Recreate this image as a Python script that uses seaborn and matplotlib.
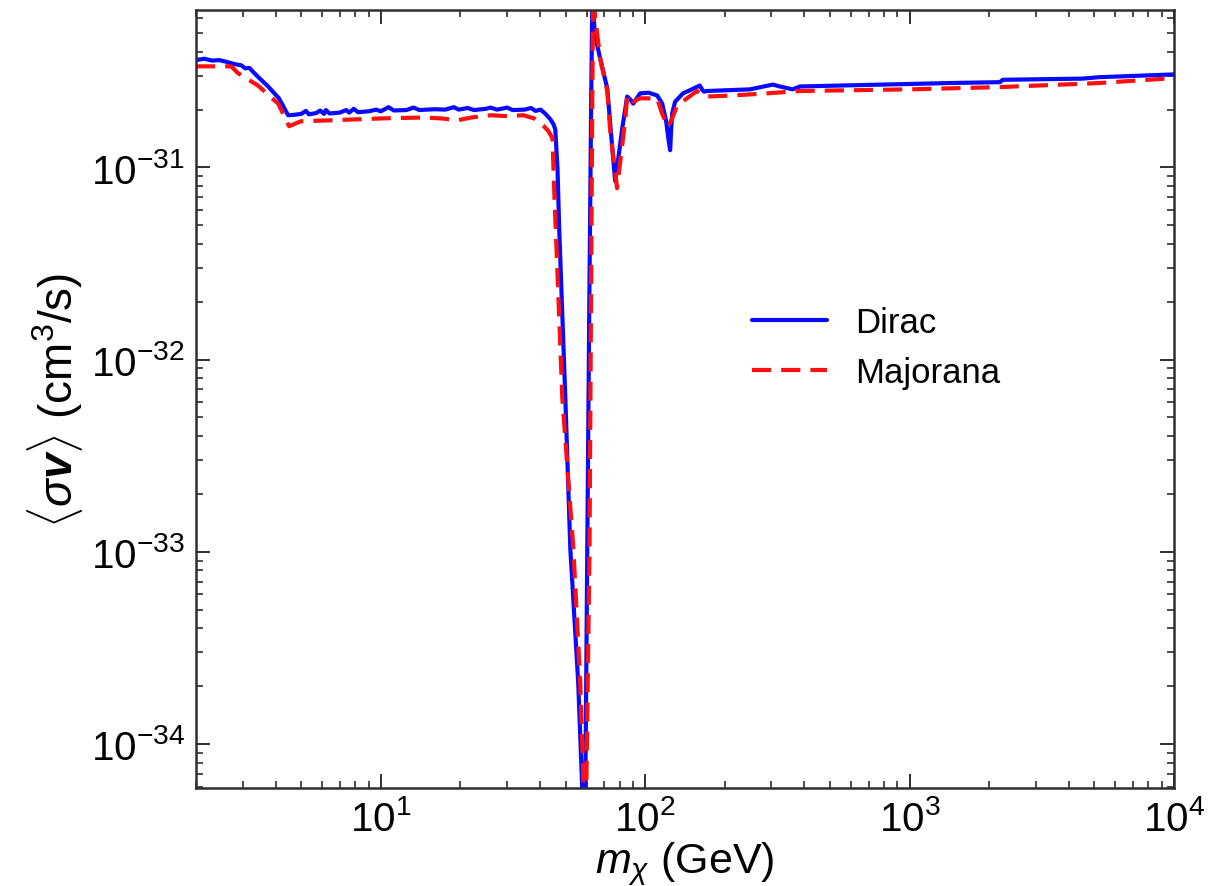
import numpy as np
import pandas as pd
import matplotlib
matplotlib.use("Agg")
import matplotlib.pyplot as plt
import seaborn as sns

# Dark matter mass (GeV) and thermally averaged annihilation cross section (cm^3/s)
dirac_m = [2.0, 2.15, 2.3, 2.45, 2.6, 2.8, 2.97, 3.07, 3.18, 3.4, 3.75, 4.12, 4.46,
           4.7, 5.0, 5.21, 5.35, 5.7, 5.9, 6.1, 6.2, 6.4, 7.0, 7.4, 7.6, 7.9, 8.2,
           9.0, 9.6, 10.0, 10.7, 11.2, 12.5, 13.3, 14.0, 16.0, 17.5, 18.9, 19.7,
           21.3, 22.5, 25.0, 26.0, 27.5, 30.1, 31.5, 35.0, 37.0, 38.5, 40.2, 42.0,
           43.8, 45.0, 45.7, 46.6, 47.3, 49.9, 52.1, 55.8, 57.8, 59.0, 59.4, 60.4,
           61.5, 62.5, 63.2, 63.6, 64.5, 65.9, 68.5, 71.9, 75.1, 77.0, 79.1, 81.9,
           85.5, 88.0, 90.1, 95.7, 103, 111, 116, 120, 122.5, 124.3, 125.5, 126.5,
           129.8, 139, 150, 161, 164, 167, 171, 249, 304, 323, 361, 385, 1000,
           1400, 2200, 2250, 4500, 5200, 10000]
dirac_sv = [3.62, 3.68, 3.60, 3.62, 3.55, 3.45, 3.40, 3.28, 3.30, 3.00, 2.64, 2.29, 1.87,
            1.88, 1.90, 1.97, 1.89, 1.92, 1.98, 1.90, 1.99, 1.91, 1.93, 1.99, 1.93, 2.02, 1.94,
            1.96, 2.00, 1.96, 2.06, 1.98, 1.99, 2.05, 1.99, 2.01, 2.00, 2.06, 2.00,
            2.04, 1.99, 2.02, 2.05, 2.00, 2.05, 1.99, 2.00, 2.04, 1.97, 2.00, 1.90,
            1.78, 1.68, 1.58, 0.99, 0.48, 0.063, 0.0104, 0.0021, 0.00059, 0.00025, 0.00059, 0.0104,
            0.21, 2.3, 9.0, 6.5, 5.0, 4.3, 3.4, 2.58, 1.26, 0.85, 1.11, 1.60,
            2.34, 2.25, 2.15, 2.43, 2.45, 2.37, 2.15, 1.75, 1.40, 1.23, 1.60, 1.91,
            2.20, 2.43, 2.55, 2.67, 2.55, 2.48, 2.50, 2.55, 2.70, 2.64, 2.55, 2.64, 2.72,
            2.75, 2.78, 2.86, 2.90, 2.95, 3.05]

majorana_m = [2.0, 2.72, 2.88, 3.43, 4.09, 4.5, 4.99, 6.47, 10.0, 14.5, 17.0, 19.5,
              22.0, 26.0, 30.0, 34.7, 38.0, 41.2, 43.0, 44.6, 45.4, 46.2, 48.6, 53.5,
              56.8, 58.6, 59.3, 59.9, 61.6, 62.5, 63.1, 63.6, 64.7, 67.6, 71.9, 73.8,
              78.3, 79.9, 84.2, 85.5, 90.1, 95.7, 111, 116, 122, 126.5, 132, 157,
              171, 214, 288, 385, 1000, 2190, 5200, 10000]
majorana_sv = [3.36, 3.36, 3.10, 2.67, 2.15, 1.64, 1.74, 1.76, 1.80, 1.82, 1.80, 1.76,
               1.82, 1.87, 1.85, 1.87, 1.80, 1.65, 1.55, 1.42, 0.69, 0.38, 0.063, 0.0104,
               0.0021, 0.00059, 0.0003, 0.00059, 0.0104, 0.30, 2.3, 9.0, 6.0, 3.7, 2.49, 1.54,
               0.78, 0.99, 1.80, 2.37, 2.20, 2.29, 2.29, 1.90, 1.63, 1.80, 2.10, 2.50,
               2.34, 2.37, 2.43, 2.50, 2.55, 2.62, 2.75, 2.92]

series_names = ["Dirac", "Majorana"]
SCALE = 1e-31

sns.set_theme(style="ticks")
plt.rcParams["font.family"] = ["Liberation Sans", "DejaVu Sans"]
plt.rcParams["text.color"] = "black"
plt.rcParams["axes.labelcolor"] = "black"
plt.rcParams["mathtext.fontset"] = "custom"
plt.rcParams["mathtext.rm"] = "Liberation Sans"
plt.rcParams["mathtext.it"] = "Liberation Sans:italic"
plt.rcParams["mathtext.bf"] = "Liberation Sans:bold"
plt.rcParams["mathtext.bfit"] = "Liberation Sans:italic:bold"

dirac = pd.DataFrame({"m": dirac_m, "sv": np.array(dirac_sv) * SCALE})
majorana = pd.DataFrame({"m": majorana_m, "sv": np.array(majorana_sv) * SCALE})

fig = plt.figure(figsize=(12.12, 8.87), dpi=100)
ax = fig.add_axes([0.1617, 0.1105, 0.8069, 0.8771])
ax.set_xscale("log")
ax.set_yscale("log")

sns.lineplot(data=dirac, x="m", y="sv", ax=ax, color="#0a0aff", lw=3.0,
             estimator=None, sort=False, label=series_names[0])
sns.lineplot(data=majorana, x="m", y="sv", ax=ax, color="#ff1010", lw=3.0,
             linestyle=(0, (4.6, 2.4)), estimator=None, sort=False,
             label=series_names[1])

ax.set_xlim(2.0, 1e4)
ax.set_ylim(5.9e-35, 6.6e-31)

for s in ax.spines.values():
    s.set_color("#2e2e2e")
    s.set_linewidth(1.8)
    s.set_visible(True)

ax.tick_params(which="both", direction="in", top=True, right=True,
               colors="#2e2e2e", labelcolor="black")
ax.tick_params(which="major", length=10, width=1.4, labelsize=29, pad=8)
ax.tick_params(which="minor", length=5, width=1.2)

ax.set_xlabel(r"$m_\chi$ (GeV)", fontsize=31, labelpad=1)
ax.set_ylabel(r"$\langle\sigma\mathbfit{v}\rangle$ (cm$^3$/s)", fontsize=33, labelpad=4)

ax.legend(loc="upper left", bbox_to_anchor=(0.537, 0.66), frameon=False,
          fontsize=25, handlelength=2.15, handletextpad=0.8, labelspacing=0.5)

fig.savefig("out.png", dpi=100)
